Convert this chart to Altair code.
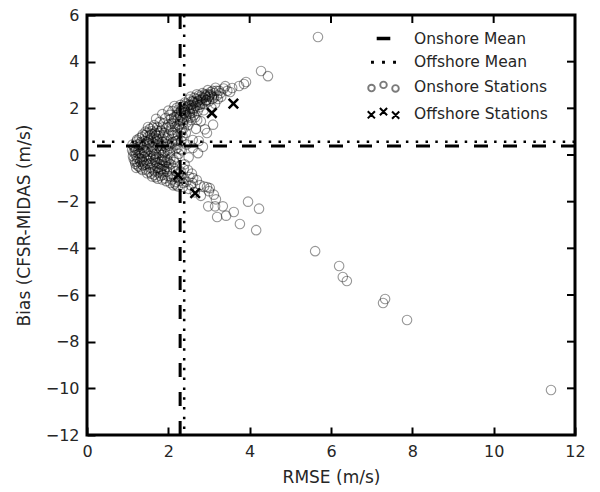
import altair as alt
import pandas as pd

# ---------------- data ----------------
ONSHORE_RMSE = [
    1.12, 1.14, 1.15, 1.17, 1.19, 1.20, 1.22, 1.24, 1.26, 1.28, 1.29, 1.31, 1.33, 1.34, 1.36, 1.37, 1.39, 1.40, 1.41, 1.43,
    1.44, 1.46, 1.48, 1.49, 1.50, 1.23, 1.27, 1.30, 1.35, 1.42, 1.47, 1.18, 1.32, 1.38,
    1.52, 1.53, 1.55, 1.56, 1.58, 1.60, 1.60, 1.62, 1.63, 1.65, 1.66, 1.68, 1.69, 1.71, 1.72, 1.74, 1.75, 1.76, 1.78, 1.79,
    1.80, 1.82, 1.83, 1.85, 1.86, 1.87, 1.89, 1.90, 1.91, 1.93, 1.94, 1.95, 1.97, 1.98, 1.99, 1.57, 1.61, 1.64, 1.67, 1.70,
    1.73, 1.77, 1.81, 1.84, 1.88, 1.92, 1.96, 1.54, 1.59, 1.66, 1.74, 1.83, 1.90, 1.86, 1.50, 1.70, 1.85, 2.00, 2.15,
    2.01, 2.03, 2.04, 2.06, 2.07, 2.09, 2.10, 2.12, 2.13, 2.15, 2.16, 2.18, 2.19, 2.21, 2.22, 2.24, 2.25, 2.27, 2.28, 2.30,
    2.31, 2.33, 2.35, 2.37, 2.38, 2.02, 2.05, 2.08, 2.11, 2.14, 2.17, 2.20, 2.23, 2.26, 2.29, 2.32, 2.36, 2.39,
    2.41, 2.43, 2.45, 2.47, 2.49, 2.51, 2.53, 2.56, 2.58, 2.60, 2.62, 2.64, 2.66, 2.68, 2.70, 2.72, 2.75, 2.77, 2.80, 2.82,
    2.84, 2.87, 2.90, 2.92, 2.95, 2.97, 3.00, 3.03, 3.06, 3.09, 3.12, 3.16, 3.20, 3.25, 3.30, 3.36, 3.45, 3.52, 3.57, 3.74,
    3.86, 3.91, 4.28, 4.45, 2.55, 2.70, 3.15, 3.40,
    2.30, 2.45, 2.60, 2.75, 2.90, 3.10, 2.85, 2.50, 2.20, 2.73,
    2.30, 2.35, 2.36, 2.40, 2.48, 2.52, 2.50, 2.60, 2.61, 2.70, 2.65, 2.78, 2.80, 2.88, 2.95, 3.02, 3.00, 3.12, 3.17, 2.98,
    3.15, 3.34, 3.20, 3.42, 3.61, 3.96, 4.23, 3.76, 4.16, 2.20, 2.28,
    5.61, 6.20, 6.29, 6.39, 7.33, 7.28, 7.87, 11.41, 5.68,
    1.13, 1.16, 1.18, 1.21, 1.23, 1.25, 1.27, 1.29, 1.31, 1.33, 1.35, 1.37, 1.39, 1.41, 1.43, 1.45, 1.47, 1.49, 1.21, 1.26,
    1.34, 1.44, 1.48, 1.11,
    1.51, 1.53, 1.55, 1.57, 1.59, 1.61, 1.63, 1.65, 1.67, 1.69, 1.71, 1.73, 1.75, 1.77, 1.79, 1.81, 1.83, 1.85, 1.87, 1.89,
    1.91, 1.93, 1.95, 1.97, 1.99, 1.52, 1.56, 1.62, 1.68, 1.72, 1.76, 1.80, 1.84, 1.88, 1.92, 1.96, 1.58, 1.64, 1.70, 1.78,
    1.82, 1.86, 1.94, 1.98,
    2.01, 2.03, 2.05, 2.07, 2.09, 2.11, 2.13, 2.15, 2.17, 2.19, 2.21, 2.23, 2.25, 2.27, 2.29, 2.31, 2.33, 2.35, 2.37, 2.39,
    2.02, 2.06, 2.10, 2.14, 2.18, 2.22, 2.26, 2.30, 2.34, 2.38,
    2.42, 2.44, 2.46, 2.50, 2.52, 2.54, 2.57, 2.59, 2.61, 2.63, 2.67, 2.69, 2.71, 2.74, 2.76, 2.79, 2.83, 2.86, 2.89, 2.93,
    2.96, 2.99, 3.04, 3.08, 3.13, 3.18, 3.22, 3.28,
    2.05, 2.12, 2.18, 2.24, 2.32, 2.38, 2.44, 2.55, 2.58,
    2.40, 2.48, 2.56, 2.64, 2.72, 2.81, 2.91, 3.01, 2.44, 2.53, 2.62, 2.78, 2.94, 3.07,
]
ONSHORE_BIAS = [
    0.45, 0.12, -0.18, 0.30, -0.38, 0.00, 0.58, -0.12, 0.20, -0.50, 0.72, -0.28, 0.42, 0.06, -0.64, 0.88, 0.22, -0.08, 0.60, -0.42,
    1.00, 0.32, -0.78, 0.02, 0.78, -0.30, 0.35, 0.10, -0.20, 0.45, -0.20, 0.15, 0.55, -0.45,
    -0.25, 0.50, 1.12, -0.55, 0.15, -0.92, 0.90, 0.35, -0.10, 1.28, -0.70, 0.62, 0.05, -0.35, 1.05, -1.02, 0.40, 0.82, -0.15, 1.42,
    -0.60, 0.20, -0.30, 1.18, 0.55, -0.85, -0.45, 0.95, -0.10, 1.58, 0.35, -1.12, -0.70, 0.72, 1.30, 0.70, -0.40, 0.20, -0.20, 0.85,
    -0.55, 0.10, -0.90, 0.70, -0.25, 0.15, -0.50, -0.05, 0.45, -0.85, 0.60, -0.60, -0.70, 0.00, 1.20, 1.55, 1.75, 1.90, 2.10,
    -0.35, 1.72, 0.10, -0.92, 1.05, 0.50, 1.88, -0.55, 1.45, 0.85, -1.22, 0.25, 1.62, 2.02, 1.15, 0.62, -0.80, 1.82, 1.32, 2.15,
    0.95, 0.20, 1.58, 1.98, 1.15, 0.40, -0.15, 1.35, 0.70, -0.30, 1.20, 0.45, 1.50, 0.05, 1.70, 0.60, 1.38, 1.80,
    2.25, 0.95, 1.62, 2.05, 1.28, 2.38, 1.78, 1.50, 2.15, 0.64, 1.95, 2.45, 1.62, 1.12, 2.25, 1.88, 2.55, 2.05, 1.45, 2.35,
    2.65, 1.92, 2.18, 2.50, 0.94, 2.78, 2.30, 2.60, 2.02, 2.75, 2.45, 2.88, 2.55, 2.75, 2.50, 2.85, 2.75, 2.70, 2.87, 2.96,
    3.04, 3.13, 3.60, 3.38, 2.50, 2.60, 2.20, 2.95,
    0.25, 0.45, 0.30, 0.60, 1.10, 1.30, 0.35, -0.10, -0.10, 0.08,
    -0.70, -1.00, -1.37, -0.40, -0.64, -0.94, -1.45, -1.20, -0.99, -1.07, -1.60, -1.29, -1.75, -1.35, -1.37, -1.42, -1.55, -1.70, -1.90, -2.20,
    -2.20, -2.20, -2.66, -2.60, -2.44, -2.00, -2.30, -2.96, -3.22, -1.30, -1.10,
    -4.12, -4.76, -5.23, -5.40, -6.17, -6.34, -7.07, -10.07, 5.06,
    -0.05, 0.38, -0.28, 0.22, 0.65, -0.45, 0.05, -0.15, 0.48, -0.58, 0.78, 0.32, -0.32, 0.10, 0.85, -0.62, 0.55, -0.38, -0.55, 0.45,
    -0.40, 0.15, 0.95, 0.20,
    0.25, -0.72, 0.85, -0.15, 1.02, 0.55, -0.62, 0.02, 0.95, -0.95, 0.30, 1.20, -0.75, 0.50, -0.40, 1.05, 0.40, -1.05, 0.85, 0.10,
    -0.60, 0.60, 1.15, -0.20, -0.90, 0.62, -0.35, 1.18, -0.30, 0.70, -0.55, 0.30, -0.20, 1.35, -1.00, 0.45, -0.80, 0.72, -0.10, 0.95,
    -0.75, -0.45, -0.30, 0.20,
    0.85, -0.60, 0.30, 1.55, -1.05, 0.95, -0.20, 1.35, 0.60, -0.70, 1.70, 0.90, 1.95, -1.00, 1.45, 1.90, 1.10, 0.80, -1.20, 2.10,
    1.20, -0.40, 0.55, 1.62, -0.95, 0.30, 1.25, 1.65, 2.05, 1.50,
    1.85, 2.20, 1.40, 1.95, 2.15, 1.60, 2.30, 1.80, 2.30, 1.70, 2.10, 2.40, 1.50, 2.15, 2.35, 2.50, 2.20, 2.45, 2.60, 2.35,
    2.60, 2.50, 2.70, 2.40, 2.65, 2.75, 2.40, 2.65,
    -1.20, -1.30, -1.15, -1.35, -0.90, -0.60, -1.15, -1.30, -0.80,
    1.95, 2.10, 2.00, 2.25, 2.30, 2.40, 2.55, 2.55, 1.70, 1.85, 2.00, 2.15, 2.35, 2.50,
]
OFFSHORE_RMSE = [3.60, 3.07, 2.24, 2.66]
OFFSHORE_BIAS = [2.20, 1.80, -0.86, -1.63]

ONSHORE_MEAN = {"rmse": 2.29, "bias": 0.39}
OFFSHORE_MEAN = {"rmse": 2.39, "bias": 0.57}

X_TICKS = [0, 2, 4, 6, 8, 10, 12]
Y_TICKS = [-12, -10, -8, -6, -4, -2, 0, 2, 4, 6]

LEGEND_LABELS = ["Onshore Mean", "Offshore Mean", "Onshore Stations", "Offshore Stations"]
LEGEND_COLORS = ["black", "black", "#7a7a7a", "black"]
LEGEND_WIDTHS = [1.6, 2.0, 1.0, 2.4]
LEGEND_PATHS = [
    "M-0.8,-0.12H0.8V0.12H-0.8Z",
    "M-1.55,-0.08h0.16v0.16h-0.16Z M-0.08,-0.08h0.16v0.16h-0.16Z M1.39,-0.08h0.16v0.16h-0.16Z",
    "M-2.04,0.15a0.44,0.44 0 1,0 0.88,0a0.44,0.44 0 1,0 -0.88,0"
    " M-0.44,-0.27a0.44,0.44 0 1,0 0.88,0a0.44,0.44 0 1,0 -0.88,0"
    " M1.16,0.2a0.44,0.44 0 1,0 0.88,0a0.44,0.44 0 1,0 -0.88,0",
    "M-2.1,-0.32L-1.14,0.64M-2.1,0.64L-1.14,-0.32"
    " M-0.48,-0.75L0.48,0.21M-0.48,0.21L0.48,-0.75"
    " M1.14,-0.27L2.1,0.69M1.14,0.69L2.1,-0.27",
]

FONT = "DejaVu Sans"
TXT = "#262626"

# ---------------- frames ----------------
on_df = pd.DataFrame({"rmse": ONSHORE_RMSE, "bias": ONSHORE_BIAS})
off_df = pd.DataFrame({"rmse": OFFSHORE_RMSE, "bias": OFFSHORE_BIAS})
mean_on_df = pd.DataFrame([ONSHORE_MEAN])
mean_off_df = pd.DataFrame([OFFSHORE_MEAN])
xt_df = pd.DataFrame({"rmse": X_TICKS})
yt_df = pd.DataFrame({"bias": Y_TICKS})
leg_df = pd.DataFrame({"lab": LEGEND_LABELS})

xscale = alt.Scale(domain=[0, 12], nice=False, zero=False)
yscale = alt.Scale(domain=[-12, 6], nice=False, zero=False)

xaxis = alt.Axis(values=X_TICKS, offset=-8, tickSize=8, tickWidth=2, tickColor="black",
                 domain=False, grid=False, labelFont=FONT, labelFontSize=16, labelColor=TXT,
                 labelPadding=8, labelFlush=False, title="RMSE (m/s)", titleFont=FONT,
                 titleFontSize=17, titleFontWeight="normal", titleColor=TXT, titlePadding=10)
yaxis = alt.Axis(values=Y_TICKS, offset=-8, tickSize=8, tickWidth=2, tickColor="black",
                 domain=False, grid=False, labelFont=FONT, labelFontSize=16, labelColor=TXT,
                 labelPadding=8, labelFlush=False, title="Bias (CFSR-MIDAS (m/s)", titleFont=FONT,
                 titleFontSize=17, titleFontWeight="normal", titleColor=TXT, titlePadding=12)

X = alt.X("rmse:Q", scale=xscale, axis=xaxis)
Y = alt.Y("bias:Q", scale=yscale, axis=yaxis)

on_v = alt.Chart(mean_on_df).mark_rule(color="black", strokeWidth=3, strokeDash=[14, 15]).encode(x=X)
on_h = alt.Chart(mean_on_df).mark_rule(color="black", strokeWidth=3, strokeDash=[14, 15]).encode(y=Y)
off_v = alt.Chart(mean_off_df).mark_rule(color="black", strokeWidth=2.5, strokeDash=[2.5, 7.3]).encode(x=X)
off_h = alt.Chart(mean_off_df).mark_rule(color="black", strokeWidth=2.5, strokeDash=[2.5, 7.3]).encode(y=Y)

onshore = alt.Chart(on_df).mark_point(shape="circle", filled=False, color="black", strokeOpacity=0.58,
                                      size=90, strokeWidth=1.1).encode(x=X, y=Y)
offshore = alt.Chart(off_df).mark_point(shape="M-1,-1L1,1M-1,1L1,-1", filled=False, color="black",
                                        size=90, strokeWidth=2.5, opacity=1).encode(x=X, y=Y)

top_ticks = alt.Chart(xt_df).mark_rule(color="black", strokeWidth=2).encode(
    x=X, y=alt.value(0), y2=alt.value(8))
right_ticks = alt.Chart(yt_df).mark_rule(color="black", strokeWidth=2).encode(
    y=Y, x=alt.value(480), x2=alt.value(488))

leg = alt.Legend(title=None, orient="none", legendX=288, legendY=15, padding=0,
                 symbolSize=225, labelFont=FONT, labelFontSize=15.5, labelColor=TXT,
                 labelOffset=22, rowPadding=6.7, symbolOpacity=1)
legend_layer = alt.Chart(leg_df).mark_point(filled=False, opacity=1).encode(
    color=alt.Color("lab:N", scale=alt.Scale(domain=LEGEND_LABELS, range=LEGEND_COLORS), legend=leg),
    shape=alt.Shape("lab:N", scale=alt.Scale(domain=LEGEND_LABELS, range=LEGEND_PATHS), legend=leg),
    strokeWidth=alt.StrokeWidth("lab:N", scale=alt.Scale(domain=LEGEND_LABELS, range=LEGEND_WIDTHS), legend=leg),
).transform_filter("false")

chart = alt.layer(
    on_v, on_h, off_v, off_h, onshore, offshore, top_ticks, right_ticks, legend_layer
).properties(
    width=488, height=420,
    autosize=alt.AutoSizeParams(type="none"),
    padding={"left": 87, "top": 15, "right": 25, "bottom": 57},
    background="white",
).configure_view(stroke="black", strokeWidth=3)

chart.save("out.html", embed_options={"renderer": "svg", "actions": False})
